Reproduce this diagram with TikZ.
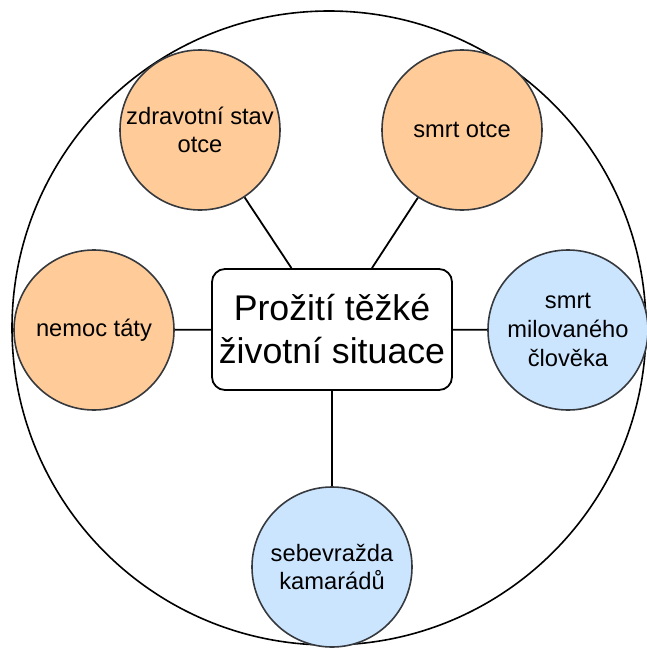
\documentclass[tikz,border=0pt]{standalone}
\usepackage{fontspec}
\setmainfont{Liberation Sans}
\definecolor{orangefill}{HTML}{FFCC99}
\definecolor{bluefill}{HTML}{CCE5FF}
\definecolor{strokegray}{HTML}{36393D}
\begin{document}
\begin{tikzpicture}[x=1pt,y=-1pt,
  topic/.style={circle, draw=strokegray, line width=1.6pt, minimum size=160pt, inner sep=0pt, align=center,
    font=\fontsize{23.7}{28.6}\selectfont},
  orangetopic/.style={topic, fill=orangefill},
  bluetopic/.style={topic, fill=bluefill},
  centerbox/.style={draw=black, line width=1.8pt, rounded corners=13pt, fill=white, minimum width=240pt,
    minimum height=121pt, inner sep=0pt, align=center, font=\fontsize{35.7}{43}\selectfont},
  outer/.style={circle, draw=black, line width=1.6pt, minimum size=634pt, inner sep=0pt},
  link/.style={draw=black, line width=1.8pt}]
\useasboundingbox (0,0) rectangle (646,648);
\node[outer] (big) at (329,328) {};
\node[centerbox] (main) at (332,329.5) {Prožití těžké\\životní situace};
\node[orangetopic] (zdrav) at (200,130) {zdravotní stav\\otce};
\node[orangetopic] (smrt) at (462,130) {smrt otce};
\node[orangetopic] (nemoc) at (94,330) {nemoc táty};
\node[bluetopic] (milov) at (568,330) {smrt\\milovaného\\člověka};
\node[bluetopic] (sebe) at (332,567) {sebevražda\\kamarádů};
\draw[link] (zdrav) -- (main);
\draw[link] (smrt) -- (main);
\draw[link] (nemoc) -- (main);
\draw[link] (milov) -- (main);
\draw[link] (sebe) -- (main);
\end{tikzpicture}
\end{document}
